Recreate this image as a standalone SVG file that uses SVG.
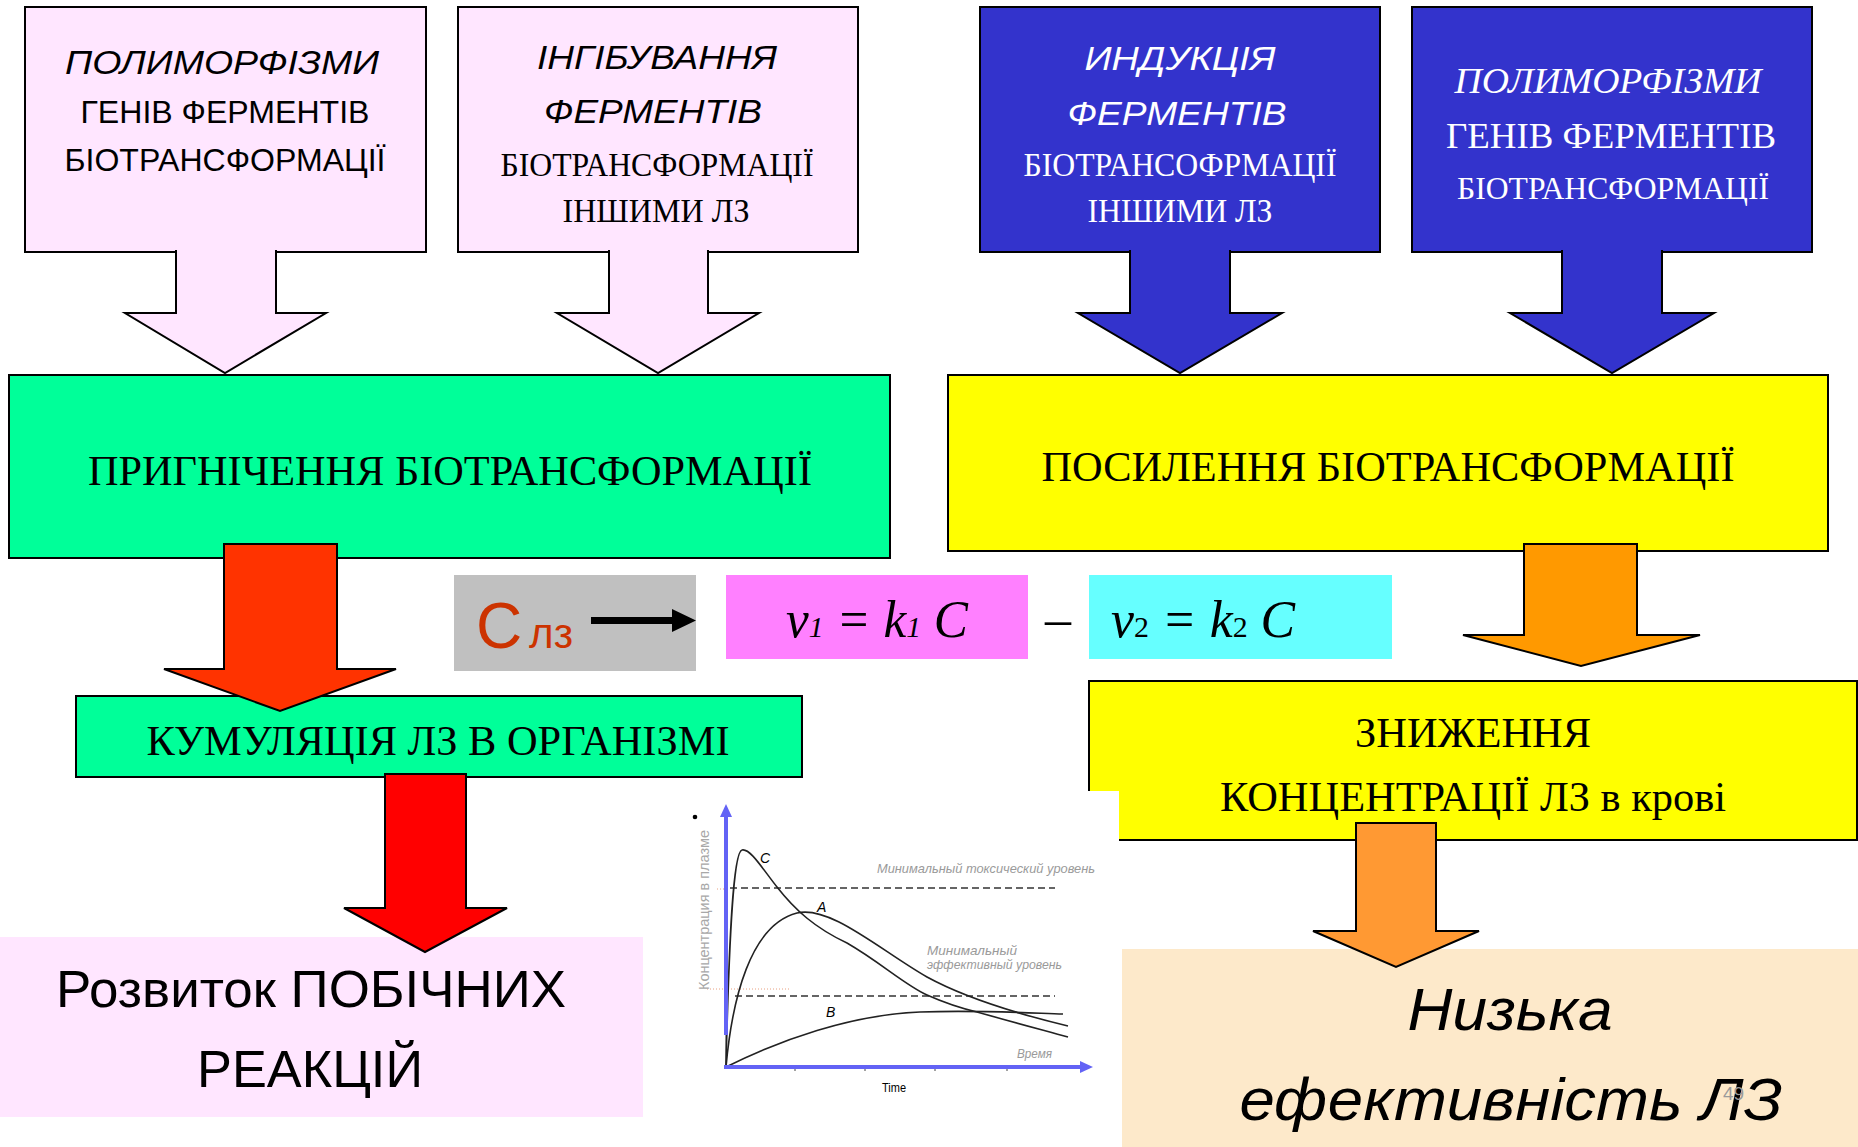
<svg xmlns="http://www.w3.org/2000/svg" width="1858" height="1147" viewBox="0 0 1858 1147">
<style>
.bx{stroke:#000;stroke-width:2}
.pink{fill:#FFE6FF}
.blue{fill:#3333CC}
.green{fill:#00FF99}
.yel{fill:#FFFF00}
.ar{stroke:#000;stroke-width:2;stroke-linejoin:miter}
.sans{font-family:"Liberation Sans",Arial,sans-serif}
.serif{font-family:"Liberation Serif","Times New Roman",serif}
.it{font-style:italic}
.c{text-anchor:middle}
.w{fill:#fff}
.k{fill:#000}
.big{font-size:42px}
.lbl{font-family:"Liberation Sans",Arial,sans-serif;font-style:italic;fill:#9a9a9a;font-size:13px}
.dash{stroke:#333;stroke-width:1.6;stroke-dasharray:7 4;fill:none}
.crv{stroke:#222;stroke-width:1.6;fill:none}
.axis{stroke:#6363F5;stroke-width:4;fill:none}
</style>

<g id="node-polymorph-1">
<rect class="bx pink" x="25" y="7" width="401" height="245"/>
<text class="sans it c k" x="222" y="74" font-size="33" textLength="314" lengthAdjust="spacingAndGlyphs">ПОЛИМОРФІЗМИ</text>
<text class="sans c k" x="225" y="123" font-size="31" textLength="289" lengthAdjust="spacingAndGlyphs">ГЕНІВ ФЕРМЕНТІВ</text>
<text class="sans c k" x="225" y="171" font-size="31" textLength="321" lengthAdjust="spacingAndGlyphs">БІОТРАНСФОРМАЦІЇ</text>
</g>

<g id="node-inhib">
<rect class="bx pink" x="458" y="7" width="400" height="245"/>
<text class="sans it c k" x="657" y="69" font-size="33" textLength="240" lengthAdjust="spacingAndGlyphs">ІНГІБУВАННЯ</text>
<text class="sans it c k" x="653" y="123" font-size="33" textLength="218" lengthAdjust="spacingAndGlyphs">ФЕРМЕНТІВ</text>
<text class="serif c k" x="657" y="176" font-size="33" textLength="313" lengthAdjust="spacingAndGlyphs">БІОТРАНСФОРМАЦІЇ</text>
<text class="serif c k" x="656" y="222" font-size="33" textLength="187" lengthAdjust="spacingAndGlyphs">ІНШИМИ ЛЗ</text>
</g>

<g id="node-induct">
<rect class="bx blue" x="980" y="7" width="400" height="245"/>
<text class="sans it c w" x="1180" y="70" font-size="33" textLength="191" lengthAdjust="spacingAndGlyphs">ИНДУКЦІЯ</text>
<text class="sans it c w" x="1177" y="125" font-size="33" textLength="219" lengthAdjust="spacingAndGlyphs">ФЕРМЕНТІВ</text>
<text class="serif c w" x="1180" y="176" font-size="33" textLength="313" lengthAdjust="spacingAndGlyphs">БІОТРАНСОФРМАЦІЇ</text>
<text class="serif c w" x="1180" y="222" font-size="33" textLength="185" lengthAdjust="spacingAndGlyphs">ІНШИМИ ЛЗ</text>
</g>

<g id="node-polymorph-2">
<rect class="bx blue" x="1412" y="7" width="400" height="245"/>
<text class="serif it c w" x="1608" y="93" font-size="35" textLength="307" lengthAdjust="spacingAndGlyphs">ПОЛИМОРФІЗМИ</text>
<text class="serif c w" x="1611" y="148" font-size="35" textLength="330" lengthAdjust="spacingAndGlyphs">ГЕНІВ ФЕРМЕНТІВ</text>
<text class="serif c w" x="1613" y="199" font-size="32" textLength="312" lengthAdjust="spacingAndGlyphs">БІОТРАНСФОРМАЦІЇ</text>
</g>

<g id="node-suppress">
<rect class="bx green" x="9" y="375" width="881" height="183"/>
<text class="serif c k big" x="450" y="485" textLength="724" lengthAdjust="spacingAndGlyphs">ПРИГНІЧЕННЯ БІОТРАНСФОРМАЦІЇ</text>
</g>

<g id="node-enhance">
<rect class="bx yel" x="948" y="375" width="880" height="176"/>
<text class="serif c k big" x="1388" y="481" textLength="693" lengthAdjust="spacingAndGlyphs">ПОСИЛЕННЯ БІОТРАНСФОРМАЦІЇ</text>
</g>

<g id="node-formula">
<rect x="454" y="575" width="242" height="96" fill="#C0C0C0"/>
<text class="sans" x="476" y="648" font-size="64" fill="#CC3300">С</text>
<text class="sans" x="529" y="648" font-size="42" fill="#CC3300" textLength="44" lengthAdjust="spacingAndGlyphs">лз</text>
<path d="M591,617 H672 V609 L696,620.5 L672,632 V624 H591 Z" fill="#000"/>
<rect x="726" y="575" width="302" height="84" fill="#FF80FF"/>
<text class="serif it k" x="786" y="637" font-size="52" textLength="182" lengthAdjust="spacingAndGlyphs">v<tspan font-size="30">1</tspan> = k<tspan font-size="30">1</tspan> C</text>
<text class="serif c k" x="1058" y="636" font-size="52">–</text>
<rect x="1089" y="575" width="303" height="84" fill="#66FFFF"/>
<text class="serif it k" x="1111" y="637" font-size="52" textLength="184" lengthAdjust="spacingAndGlyphs">v<tspan font-size="30" font-style="normal">2</tspan> = k<tspan font-size="30" font-style="normal">2</tspan> C</text>
</g>

<g id="node-cumulation">
<rect class="bx green" x="76" y="696" width="726" height="81"/>
<text class="serif c k big" x="438" y="755" textLength="583" lengthAdjust="spacingAndGlyphs">КУМУЛЯЦІЯ ЛЗ В ОРГАНІЗМІ</text>
</g>

<g id="node-decrease">
<rect class="bx yel" x="1089" y="681" width="768" height="159"/>
<text class="serif c k big" x="1473" y="747" textLength="236" lengthAdjust="spacingAndGlyphs">ЗНИЖЕННЯ</text>
<text class="serif c k big" x="1473" y="811" textLength="506" lengthAdjust="spacingAndGlyphs">КОНЦЕНТРАЦІЇ ЛЗ в крові</text>
</g>

<g id="node-side-effects">
<rect x="0" y="937" width="643" height="180" fill="#FFE6FF"/>
<text class="sans c k" x="311" y="1007" font-size="52" textLength="510" lengthAdjust="spacingAndGlyphs">Розвиток ПОБІЧНИХ</text>
<text class="sans c k" x="310" y="1087" font-size="52" textLength="226" lengthAdjust="spacingAndGlyphs">РЕАКЦІЙ</text>
</g>

<g id="node-low-efficacy">
<rect x="1122" y="949" width="736" height="198" fill="#FDE9CA"/>
<text class="sans it c k" x="1510" y="1030" font-size="60" textLength="205" lengthAdjust="spacingAndGlyphs">Низька</text>
<text class="sans it c k" x="1511" y="1120" font-size="60" textLength="543" lengthAdjust="spacingAndGlyphs">ефективність ЛЗ</text>
<text class="sans" x="1723" y="1100" font-size="19" fill="#9a9a9a">49</text>
</g>

<g id="node-chart">
<rect x="680" y="791" width="439" height="320" fill="#fff"/>
<circle cx="695" cy="817" r="2.3" fill="#000"/>
<line x1="717" y1="889" x2="728" y2="889" stroke="#e8a080" stroke-width="1" stroke-dasharray="1 2"/>
<line x1="707" y1="989" x2="790" y2="989" stroke="#e8a080" stroke-width="1" stroke-dasharray="1 2"/>
<line x1="726" y1="820" x2="726" y2="1067" stroke="#333" stroke-width="1"/>
<line class="dash" x1="730" y1="888" x2="1055" y2="888"/>
<line class="dash" x1="735" y1="996" x2="1055" y2="996"/>
<path class="crv" d="M726,1067 C729,940 733,852 742,850 C750,848 762,868 777,887 C795,910 815,928 847,943 C880,962 905,985 927,995 C945,1003 960,1008 977,1012 C1005,1020 1035,1028 1068,1037"/>
<path class="crv" d="M726,1067 C732,1000 750,925 797,913 C830,905 880,950 927,977 C960,995 1010,1012 1068,1026"/>
<path class="crv" d="M726,1067 C780,1040 850,1015 920,1012 C980,1010 1030,1013 1063,1014"/>
<g stroke="#444" stroke-width="1">
<line x1="795" y1="1067" x2="795" y2="1071"/><line x1="865" y1="1067" x2="865" y2="1071"/><line x1="935" y1="1067" x2="935" y2="1071"/><line x1="1007" y1="1067" x2="1007" y2="1071"/>
</g>
<line class="axis" x1="726" y1="1035" x2="726" y2="814"/>
<path d="M720,817 L726,804 L732,817 Z" fill="#6363F5"/>
<line class="axis" x1="724" y1="1067" x2="1083" y2="1067"/>
<path d="M1080,1061 L1093,1067 L1080,1073 Z" fill="#6363F5"/>
<text class="sans it k" x="760" y="863" font-size="14">C</text>
<text class="sans it k" x="817" y="912" font-size="14">A</text>
<text class="sans it k" x="826" y="1017" font-size="14">B</text>
<text class="lbl" x="877" y="873" textLength="218" lengthAdjust="spacingAndGlyphs">Минимальный токсический уровень</text>
<text class="lbl" x="927" y="955" textLength="90" lengthAdjust="spacingAndGlyphs">Минимальный</text>
<text class="lbl" x="927" y="969" textLength="135" lengthAdjust="spacingAndGlyphs">эффективный уровень</text>
<text class="lbl" x="1017" y="1058" textLength="35" lengthAdjust="spacingAndGlyphs">Время</text>
<text class="sans k" x="882" y="1092" font-size="12" textLength="24" lengthAdjust="spacingAndGlyphs">Time</text>
<text class="sans c" transform="translate(709,910) rotate(-90)" font-size="15" fill="#a8a8a8" textLength="160" lengthAdjust="spacingAndGlyphs">Концентрация в плазме</text>
</g>

<g id="connectors">
<path class="ar" fill="#FFE6FF" d="M176,250 V313 H125 L225,373 L326,313 H276 V250"/>
<path class="ar" fill="#FFE6FF" d="M609,250 V313 H557 L658,373 L759,313 H708 V250"/>
<path class="ar" fill="#3333CC" d="M1130,250 V313 H1078 L1180,373 L1282,313 H1230 V250"/>
<path class="ar" fill="#3333CC" d="M1562,250 V313 H1510 L1612,373 L1714,313 H1662 V250"/>
<path class="ar" fill="#FF3300" d="M224,544 V669 H164 L280,711 L396,669 H337 V544 Z"/>
<path class="ar" fill="#FF0000" d="M385,774 V908 H344 L425,952 L507,908 H466 V774 Z"/>
<path class="ar" fill="#FF9900" d="M1524,544 V635 H1463 L1581,666 L1700,635 H1637 V544 Z"/>
<path class="ar" fill="#FF9933" d="M1356,823 V931 H1313 L1396,967 L1479,931 H1436 V823 Z"/>
</g>
</svg>
